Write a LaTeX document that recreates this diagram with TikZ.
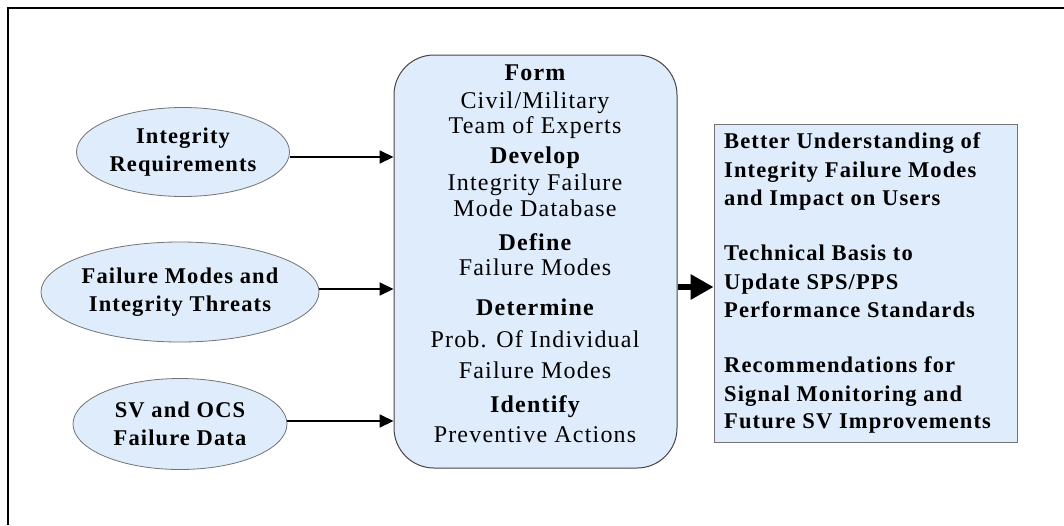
\documentclass[tikz,border=0pt]{standalone}
\usepackage{fontspec}
\setmainfont{Liberation Serif}[LetterSpace=5]
\usetikzlibrary{shapes.geometric,arrows.meta}
\definecolor{panelfill}{RGB}{223,236,252}
\definecolor{edgegray}{RGB}{115,115,115}
\definecolor{boxedge}{RGB}{70,70,70}
\begin{document}
\begin{tikzpicture}[x=1pt,y=-1pt,
  inputoval/.style={ellipse, draw=edgegray, line width=0.8pt, fill=panelfill,
    inner sep=0pt, align=center, font=\fontsize{22.5}{28}\selectfont\bfseries},
  processbox/.style={draw=boxedge, line width=1pt, fill=panelfill,
    rounded corners=40pt, inner sep=0pt},
  outcomebox/.style={draw=edgegray, line width=0.8pt, fill=panelfill, inner sep=0pt},
  steptitle/.style={inner sep=0pt, text height=16pt, text depth=5pt,
    font=\fontsize{24}{28}\selectfont\bfseries},
  stepline/.style={inner sep=0pt, text height=16pt, text depth=5pt,
    font=\fontsize{24}{28}\selectfont},
  outline/.style={anchor=west, inner sep=0pt, text height=16pt, text depth=5pt,
    font=\fontsize{22.5}{28}\selectfont\bfseries},
  feed/.style={line width=2pt, -{Triangle[length=14pt,width=13pt]}},
  result/.style={line width=6pt, -{Triangle[length=23pt,width=24pt]}}
]
\useasboundingbox (0,0) rectangle (1064,525);
\fill[white] (0,0) rectangle (1064,525);

% open frame: left and top edges
\draw[line width=2.6pt] (8,525) -- (8,8) -- (1064,8);

% inputs
\node[inputoval, minimum width=213pt, minimum height=89pt] (req) at (183,152)
  {Integrity\\Requirements};
\node[inputoval, minimum width=263pt, minimum height=100pt] (thr) at (180,292)
  {Failure Modes and\\Integrity Threats};
\node[inputoval, minimum width=214pt, minimum height=91pt] (dat) at (180,424)
  {SV and OCS\\Failure Data};

% central process
\node[processbox, minimum width=283pt, minimum height=413pt] (proc) at (535.5,261.5) {};
\node[steptitle] (s1) at (535,75)  {Form};
\node[stepline]  (s1a) at (535,103) {Civil/Military};
\node[stepline]  (s1b) at (535,128) {Team of Experts};
\node[steptitle] (s2) at (535,158) {Develop};
\node[stepline]  (s2a) at (535,185) {Integrity Failure};
\node[stepline]  (s2b) at (535,211) {Mode Database};
\node[steptitle] (s3) at (535,245) {Define};
\node[stepline]  (s3a) at (535,270) {Failure Modes};
\node[steptitle] (s4) at (535,310) {Determine};
\node[stepline]  (s4a) at (535,342) {Prob. Of Individual};
\node[stepline]  (s4b) at (535,373) {Failure Modes};
\node[steptitle] (s5) at (535,407) {Identify};
\node[stepline]  (s5a) at (535,437) {Preventive Actions};

% outcomes
\node[outcomebox, minimum width=303pt, minimum height=318pt] (out) at (865.5,283) {};
\node[outline] (o1) at (724,143) {Better Understanding of};
\node[outline] (o2) at (724,172) {Integrity Failure Modes};
\node[outline] (o3) at (724,200) {and Impact on Users};
\node[outline] (o4) at (724,255) {Technical Basis to};
\node[outline] (o5) at (724,284) {Update SPS/PPS};
\node[outline] (o6) at (724,312) {Performance Standards};
\node[outline] (o7) at (724,367) {Recommendations for};
\node[outline] (o8) at (724,396) {Signal Monitoring and};
\node[outline] (o9) at (724,423) {Future SV Improvements};

% connectors
\draw[feed] ([yshift=-5pt]req.east) -- ([yshift=-5pt]req.east -| proc.west);
\draw[feed] ([yshift=3pt]thr.east) -- ([yshift=3pt]thr.east -| proc.west);
\draw[feed] ([yshift=3pt]dat.east) -- ([yshift=3pt]dat.east -| proc.west);
\draw[result] (proc.east |- 0,287) -- (out.west |- 0,287);
\end{tikzpicture}
\end{document}
